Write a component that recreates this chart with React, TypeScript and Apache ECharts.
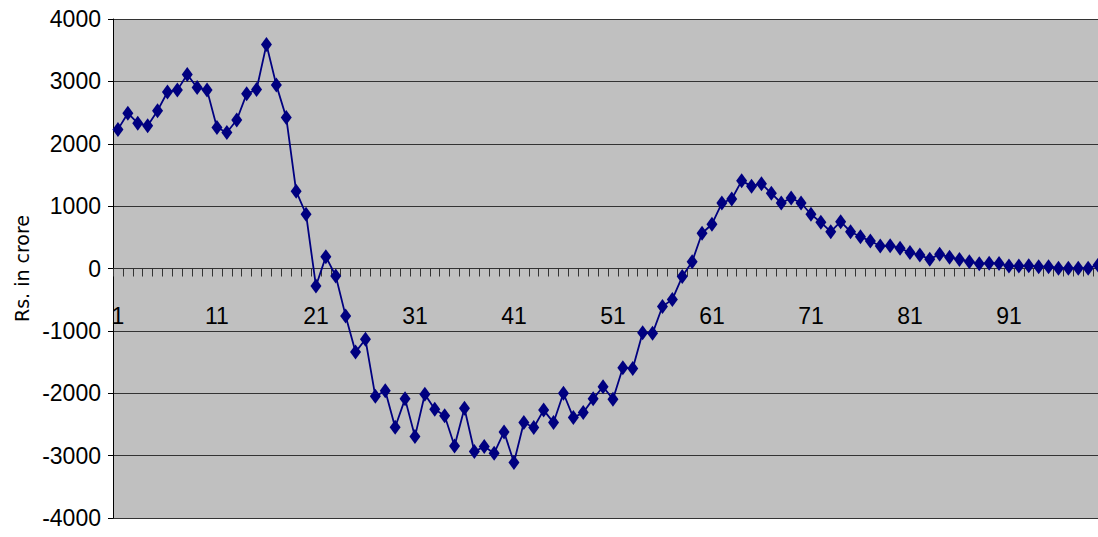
import React, { useEffect, useRef } from "react";
import * as echarts from "echarts";

const categories: string[] = [
  "1","2","3","4","5","6","7","8","9","10",
  "11","12","13","14","15","16","17","18","19","20",
  "21","22","23","24","25","26","27","28","29","30",
  "31","32","33","34","35","36","37","38","39","40",
  "41","42","43","44","45","46","47","48","49","50",
  "51","52","53","54","55","56","57","58","59","60",
  "61","62","63","64","65","66","67","68","69","70",
  "71","72","73","74","75","76","77","78","79","80",
  "81","82","83","84","85","86","87","88","89","90",
  "91","92","93","94","95","96","97","98","99","100",
];

const values: number[] = [
  2230, 2490, 2330, 2290, 2530, 2830, 2860, 3110, 2900, 2860,
  2260, 2180, 2380, 2800, 2870, 3590, 2940, 2420, 1240, 870,
  -280, 190, -120, -760, -1340, -1135, -2050, -1960, -2545, -2090,
  -2695, -2015, -2255, -2360, -2845, -2240, -2935, -2855, -2960, -2620,
  -3110, -2470, -2550, -2270, -2470, -2000, -2390, -2310, -2090, -1895,
  -2095, -1590, -1605, -1030, -1040, -610, -495, -130, 110, 565,
  710, 1050, 1115, 1405, 1320, 1360, 1205, 1050, 1130, 1050,
  870, 740, 590, 750, 590, 510, 440, 360, 365, 325,
  255, 215, 150, 230, 180, 145, 110, 75, 85, 80,
  40, 40, 45, 30, 30, 5, 5, 5, 5, 55,
];

const yMin = -4000;
const yMax = 4000;
const yStep = 1000;
const yTitle = "Rs. in crore";

const FONT = "'Liberation Sans Narrow', 'Arial Narrow', 'Liberation Sans', Arial, sans-serif";
const GRID_TOP = 19;
const GRID_BOTTOM = 19;
const CHART_H = 537;

export default function App() {
  const ref = useRef<HTMLDivElement>(null);
  useEffect(() => {
    document.body.style.margin = "0";
    if (!ref.current) return;
    const chart = echarts.init(ref.current, undefined, { renderer: "svg" });
    const plotH = CHART_H - GRID_TOP - GRID_BOTTOM;
    // move the category axis up to the zero line
    const zeroOffset = -plotH * (0 - yMin) / (yMax - yMin);
    chart.setOption({
      animation: false,
      backgroundColor: "#ffffff",
      grid: {
        left: 113,
        right: -5,
        top: GRID_TOP,
        bottom: GRID_BOTTOM,
        show: true,
        backgroundColor: "#c0c0c0",
        borderWidth: 0,
        containLabel: false,
        outerBoundsMode: "none",
      },
      xAxis: {
        type: "category",
        data: categories,
        boundaryGap: true,
        position: "bottom",
        offset: zeroOffset,
        axisLine: { onZero: false, lineStyle: { color: "#333333", width: 1 } },
        axisTick: { show: true, interval: 0, length: 8, lineStyle: { color: "#333333" } },
        axisLabel: {
          interval: 9,
          margin: 36,
          color: "#000000",
          fontFamily: FONT,
          fontSize: 23,
        },
        splitLine: { show: false },
      },
      yAxis: {
        type: "value",
        min: yMin,
        max: yMax,
        interval: yStep,
        name: yTitle,
        nameLocation: "middle",
        nameGap: 82,
        nameTextStyle: {
          color: "#000000",
          fontFamily: "'DejaVu Sans', sans-serif",
          fontSize: 19,
        },
        axisLine: { show: true, lineStyle: { color: "#000000", width: 1 } },
        axisTick: { show: true, length: 5, lineStyle: { color: "#000000" } },
        axisLabel: {
          margin: 12,
          color: "#000000",
          fontFamily: FONT,
          fontSize: 23,
          formatter: (v: number) => String(v),
        },
        splitLine: { show: true, lineStyle: { color: "#333333", width: 1 } },
      },
      series: [
        {
          type: "line",
          data: values,
          symbol: "diamond",
          symbolSize: [11, 15],
          showAllSymbol: true,
          itemStyle: { color: "#000080" },
          lineStyle: { color: "#000080", width: 1.8 },
        },
      ],
    });
    return () => chart.dispose();
  }, []);
  return <div ref={ref} style={{ width: 1098, height: 537 }} />;
}
